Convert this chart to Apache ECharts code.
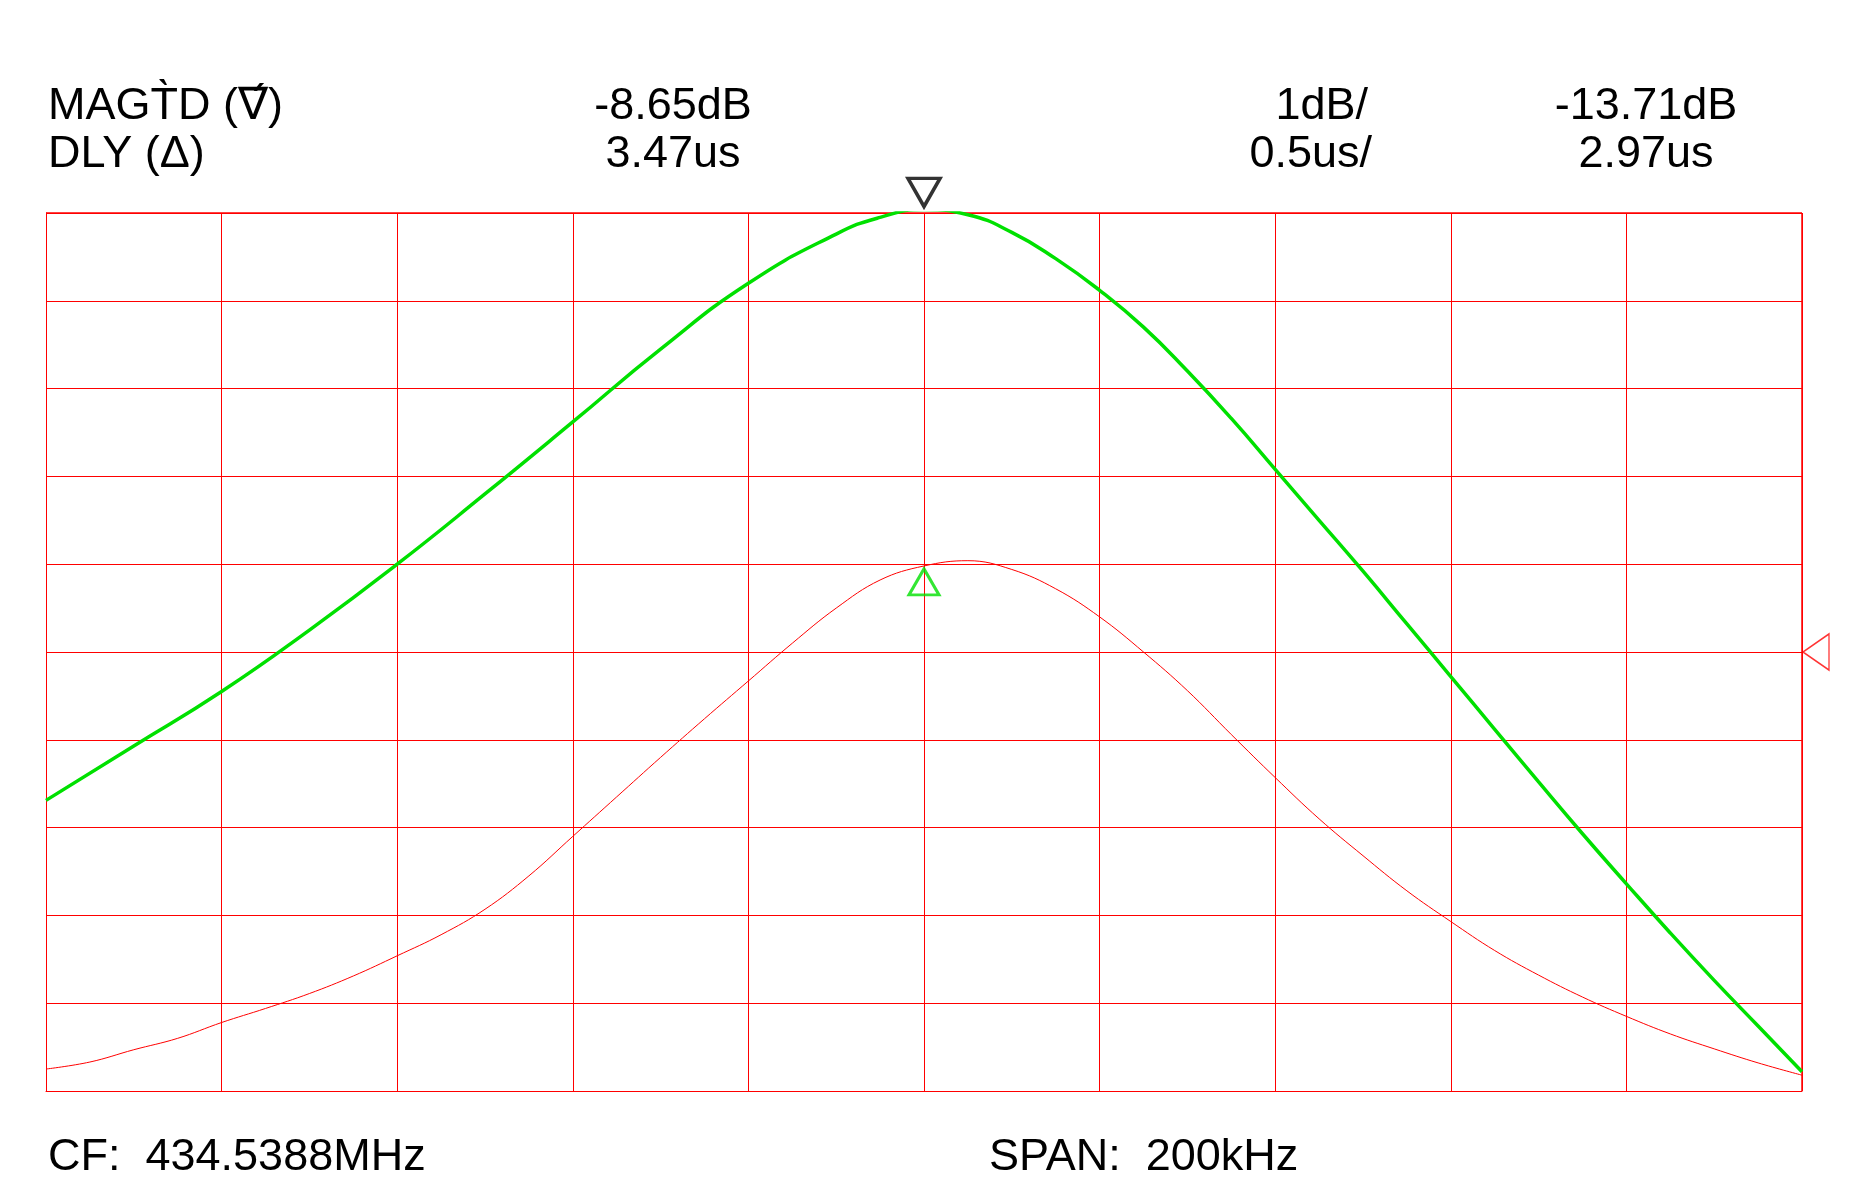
<!doctype html>
<html>
<head>
<meta charset="utf-8">
<script src="https://cdn.jsdelivr.net/npm/echarts@6/dist/echarts.min.js"></script>
<style>html,body{margin:0;background:#fff}#c{width:1875px;height:1203px}</style>
</head>
<body>
<div id="c"></div>
<script>
// x in divisions (0..10), y in divisions from bottom (0..10)
var magX = [0, 0.5, 1, 1.5, 2, 2.5, 3, 3.5, 4, 4.5, 4.75, 5, 5.25, 5.5, 5.75, 6, 6.25, 6.5, 6.75, 7, 7.25, 7.5, 7.75, 8, 8.25, 8.5, 8.75, 9, 9.25, 9.5, 9.75, 10];
var magY = [3.31, 3.93, 4.55, 5.25, 6.00, 6.80, 7.62, 8.45, 9.20, 9.76, 9.95, 10.04, 9.98, 9.78, 9.48, 9.12, 8.70, 8.20, 7.66, 7.08, 6.50, 5.92, 5.32, 4.72, 4.12, 3.52, 2.93, 2.36, 1.80, 1.26, 0.74, 0.22];
var dlyX = [0, 0.25, 0.5, 0.75, 1, 1.25, 1.5, 1.75, 2, 2.25, 2.5, 2.75, 3, 3.25, 3.5, 3.75, 4, 4.25, 4.5, 4.75, 5, 5.25, 5.5, 5.75, 6, 6.25, 6.5, 6.75, 7, 7.25, 7.5, 7.75, 8, 8.25, 8.5, 8.75, 9, 9.25, 9.5, 9.75, 10];
var dlyY = [0.25, 0.33, 0.47, 0.60, 0.78, 0.94, 1.11, 1.31, 1.54, 1.78, 2.07, 2.45, 2.90, 3.35, 3.80, 4.24, 4.67, 5.10, 5.50, 5.82, 5.98, 6.04, 5.94, 5.72, 5.40, 5.00, 4.56, 4.06, 3.57, 3.10, 2.68, 2.28, 1.93, 1.60, 1.32, 1.07, 0.85, 0.65, 0.48, 0.32, 0.18];
var markX = 5;

var font = 'Liberation Sans, Arial, sans-serif';
function txt(x, y, s, align) {
  return {type: 'text', x: x, y: y, style: {text: s, font: '45px ' + font, fill: '#000', textAlign: align || 'left', textVerticalAlign: 'middle'}};
}
var chart = echarts.init(document.getElementById('c'));
chart.setOption({
  animation: false,
  grid: {left: 46, right: 73, top: 213, bottom: 112},
  xAxis: {type: 'value', min: 0, max: 10, interval: 1, axisLabel: {show: false}, axisTick: {show: false},
    axisLine: {lineStyle: {color: '#ff0000', width: 1}}, splitLine: {lineStyle: {color: '#ff0000', width: 1}}},
  yAxis: {type: 'value', min: 0, max: 10, interval: 1, axisLabel: {show: false}, axisTick: {show: false},
    axisLine: {show: true, lineStyle: {color: '#ff0000', width: 1}}, splitLine: {lineStyle: {color: '#ff0000', width: 1}}},
  graphic: [
    {type: 'rect', shape: {x: 1802, y: 213, width: 0, height: 878}, style: {stroke: '#ff0000', lineWidth: 1}},
    {type: 'rect', shape: {x: 46, y: 213, width: 1756, height: 0}, style: {stroke: '#ff0000', lineWidth: 1}},
    txt(48, 107, 'MAGT\u0300D (\u2207\u0301)'),
    txt(48, 155, 'DLY (\u0394)'),
    txt(673, 107, '-8.65dB', 'center'),
    txt(673, 155, '3.47us', 'center'),
    txt(1368, 107, '1dB/', 'right'),
    txt(1372, 155, '0.5us/', 'right'),
    txt(1646, 107, '-13.71dB', 'center'),
    txt(1646, 155, '2.97us', 'center'),
    txt(48, 1158, 'CF:  434.5388MHz'),
    txt(989, 1158, 'SPAN:  200kHz')
  ],
  series: [
    {type: 'line', data: dlyX.map(function (x, i) { return [x, dlyY[i]]; }), smooth: 0.4, showSymbol: false,
      lineStyle: {color: '#ff0000', width: 1}},
    {type: 'line', data: magX.map(function (x, i) { return [x, magY[i]]; }), smooth: 0.5, showSymbol: false,
      lineStyle: {color: '#00e000', width: 3.5}},
    {type: 'scatter', data: [[markX, 10.04]], symbol: 'triangle', symbolRotate: 180, symbolSize: [32, 28], symbolOffset: [0, -17],
      itemStyle: {color: 'none', borderColor: '#000', borderWidth: 3.5}, clip: false},
    {type: 'scatter', data: [[markX, 5.98]], symbol: 'triangle', symbolSize: [30, 26], symbolOffset: [0, 16],
      itemStyle: {color: 'none', borderColor: '#00e000', borderWidth: 3}, clip: false},
    {type: 'scatter', data: [[10, 5]], symbol: 'triangle', symbolRotate: 90, symbolSize: [36, 26], symbolOffset: [14, 0],
      itemStyle: {color: 'none', borderColor: '#ff0000', borderWidth: 1.5}, clip: false}
  ]
});
</script>
</body>
</html>
